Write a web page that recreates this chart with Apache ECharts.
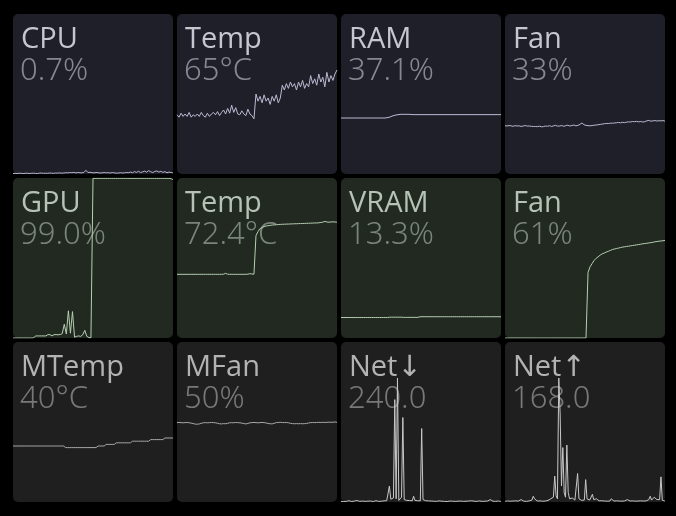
<!DOCTYPE html>
<html>
<head>
<meta charset="utf-8">
<script src="https://cdn.jsdelivr.net/npm/echarts@6/dist/echarts.min.js"></script>
<style>
html,body{margin:0;padding:0;background:#000;}
#c{width:676px;height:516px;}
</style>
</head>
<body>
<div id="c"></div>
<script>
// ---- tile labels ----
const titles = ['CPU','Temp','RAM','Fan','GPU','Temp','VRAM','Fan','MTemp','MFan','Net\u2193','Net\u2191'];
const readings = ['0.7%','65°C','37.1%','33%','99.0%','72.4°C','13.3%','61%','40°C','50%','240.0','168.0'];

// ---- series values (percent of tile scale) ----
const cpu = [0.3,0.4,0.3,0.5,0.4,0.3,0.4,0.5,0.3,0.4,0.5,0.4,0.3,0.5,0.6,0.4,0.5,0.4,0.6,0.5,0.4,0.6,0.5,0.7,0.5,0.6,
  0.8,0.7,0.9,0.8,1.0,0.7,0.9,0.8,0.7,1.0,
  2.3,0.9,1.1,0.8,0.7,0.9,0.8,0.6,0.7,0.9,
  0.7,0.8,0.6,0.9,0.7,0.5,0.6,0.8,0.6,0.7,0.9,0.8,
  1.2,0.8,1.5,1.0,1.7,0.9,1.3,1.8,1.1,2.1,1.4,0.9,1.6,1.9,1.2,1.7,1.0,1.5,0.8,1.2,0.9,0.7];
const cpuTemp = [37,35.5,38,36,37.5,36,38.5,35.5,37,36,
  37.5,36,38.5,36.5,35.5,38,36,37.5,38.5,37,
  39,36.5,38.5,40,37.5,41,38,43,38.5,41.5,
  37.5,37,39.5,37.5,36.5,40.5,37.5,36.5,34.5,
  50,45.5,48.5,44.5,49.5,45.5,47.5,43.5,48.5,45.5,49.5,44.5,47.5,
  55.5,52.5,56.5,53.5,57.5,54.5,56.5,52.5,57.5,54.5,58.5,53.5,56.5,54.5,
  61.5,56.5,59.5,55.5,62.5,57.5,60.5,54.5,63.5,57.5,61.5,58.5,62.5,65];
const ram = [35,35,35,35,35,35,35,35,35,35,35,35,35,35,35,35,35,35,35,35,35,35,35,35,
  35.4,35.9,36.4,36.8,37.0,
  37.3,37.3,37.3,37.3,37.3,37.3,
  37.1,37.1,37.1,37.1,37.1,37.1,37.1,37.1,37.1,37.1,37.1,37.1,37.1,37.1,37.1,37.1,37.1,37.1,37.1,37.1,37.1,37.1,37.1,
  37.1,37.1,37.1,37.1,37.1,37.1,37.1,37.1,37.1,37.1,37.1,37.1,37.1,37.1,37.1,37.1,37.1,37.1,37.1,37.1,37.1,37.1,37.1];
const fan = [30.2,30.0,30.3,30.1,29.8,30.2,30.0,30.1,29.7,30.0,30.3,29.9,30.0,29.8,29.7,
  29.7,29.6,29.9,29.5,29.6,30.0,29.8,30.2,29.7,30.1,30.4,29.9,30.0,30.3,29.8,
  30.2,30.5,30.0,30.3,30.6,30.1,30.4,31.0,31.9,30.8,30.4,30.2,30.1,30.3,30.5,
  30.6,30.8,31.0,31.2,31.4,31.6,31.5,31.8,31.7,31.9,32.0,32.2,32.0,32.3,32.1,
  32.4,32.6,32.5,32.8,32.7,32.9,32.6,32.8,32.5,32.7,33.2,33.5,33.0,33.2,33.4,33.1,33.3,33.2,33.4,33.0];
const gpu = [0,0,0,0,0,0,0,0,0,0,0,
  1.3,1.3,1.3,1.3,1.3,1.3,
  2.1,2.1,1.3,
  2.1,2.1,2.0,2.2,2.7,
  8.6,2.5,17,3,16.5,0.5,1,1.3,1.0,2,4.8,1,0.3,0.2,
  99.8,99.8,99.8,99.8,99.8,99.8,99.8,99.8,99.8,99.8,99.8,99.8,99.8,99.8,99.8,99.8,99.8,99.8,99.8,99.8,
  99.8,99.8,99.8,99.8,99.8,99.8,99.8,99.8,99.8,99.8,99.8,99.8,99.8,99.8,99.8,99.8,99.8,99.8,99.6,99.0];
const gpuTemp = [39.8,39.8,39.8,39.8,39.8,39.8,39.8,39.8,39.8,39.8,39.8,39.8,39.8,39.8,39.8,39.8,39.8,39.8,39.8,39.8,
  39.8,39.8,39.8,39.9,40.4,39.9,39.8,39.8,39.8,39.8,39.8,39.8,39.8,39.8,39.8,39.9,40.2,40.0,39.9,
  64.0,66.5,68.4,69.0,69.6,70.0,70.2,
  70.4,70.6,70.7,70.8,70.9,71.0,71.1,
  71.1,71.2,71.2,71.3,71.3,71.4,71.4,71.5,
  71.5,71.6,71.6,71.7,71.7,71.8,71.8,71.9,71.9,
  72.0,72.2,72.4,72.9,72.5,72.4,72.5,72.6,72.5,72.4];
const vram = [12.8,12.8,12.8,12.8,12.8,12.8,12.8,12.8,12.8,12.8,12.8,12.8,12.8,12.8,12.8,12.8,12.8,12.8,12.8,12.8,12.8,12.8,12.8,12.8,
  13.0,13.0,13.0,13.0,13.0,13.0,13.0,
  12.9,12.9,12.9,12.9,12.9,12.9,12.9,12.9,
  13.3,13.3,13.3,13.3,13.3,13.3,13.3,13.3,13.3,13.3,13.3,13.3,13.3,13.3,13.3,13.3,13.3,13.3,13.3,13.3,
  13.3,13.3,13.3,13.3,13.3,13.3,13.3,13.3,13.3,13.3,13.3,13.3,13.3,13.3,13.3,13.3,13.3,13.3,13.3,13.3,13.2];
const gpuFan = [0,0,0,0,0,0,0,0,0,0,0,0,0,0,0,0,0,0,0,0,0,0,0,0,0,0,0,0,0,0,0,0,0,0,0,0,0,0,0,0,0,
  41,44.5,46.5,48.5,49.8,50.8,51.8,52.6,53.1,53.7,54.2,54.7,55.3,55.6,55.9,56.2,56.5,56.8,57.0,
  57.2,57.4,57.6,57.8,58.0,58.2,58.4,58.6,58.9,59.0,59.2,59.4,59.6,59.8,60.1,60.3,60.5,60.6,60.8,61.0];
const mTemp = [35,35,35,35,35,35,35,35,35,35,35,35,35,35,35,35,35,35,35,35,35,35,35,35,35,35,
  34,34,34,34,34,34,34,34,34,34,34,34,34,34,34,34,
  35,35,35,35,
  36,36,36,36,36,
  37,37,37,37,37,37,37,37,
  38,38,38,38,38,38,38,38,38,
  39,39,39,39,39,39,39,
  40,40,40,40,40];
const mFan = [49.6,49.7,49.6,49.5,49.6,49.7,49.5,49.3,49.0,48.7,
  48.6,48.8,49.2,49.5,49.6,49.5,49.6,49.7,49.6,49.5,
  49.2,48.9,48.8,49.0,48.9,49.2,49.5,49.6,49.5,49.7,
  49.6,49.5,49.3,49.0,48.8,49.1,49.5,49.6,49.7,49.6,
  49.5,49.6,49.7,49.6,49.4,49.1,48.9,48.8,49.2,49.6,
  49.7,49.8,49.7,49.6,49.7,49.5,49.2,49.0,48.9,49.0,
  48.9,49.0,48.9,49.0,49.1,49.4,49.6,49.7,49.6,49.7,
  49.8,49.7,49.8,49.7,49.8,49.9,49.8,49.9,50.0,49.8];
const netDown = [0.4,0.5,0.3,0.6,0.4,0.5,0.8,0.4,0.3,0.5,
  0.6,0.4,0.9,0.5,0.4,0.3,0.6,0.5,0.4,0.7,
  0.5,0.4,0.6,0.5,0.3,0.4,0.8,0.5,0.4,0.6,
  0.5,1.0,0.7,1.2,0.8,1.5,10.0,1.8,0.9,2.5,
  64.0,2.0,77.5,1.0,1.5,3.0,52.8,1.5,0.8,1.0,
  0.7,0.9,1.2,0.8,3.6,1.0,0.6,0.8,0.5,0.7,
  45.9,1.5,0.6,0.8,2.0,0.7,0.5,0.6,0.4,0.5,
  0.6,0.4,0.5,0.7,0.4,0.5,0.6,0.4,0.5,0.3,
  0.5,0.6,0.4,0.5,0.7,0.4,0.6,0.5,0.4,0.6,
  0.5,0.4,0.7,0.5,0.4,0.6,0.5,0.8,0.4,0.5,
  0.6,0.4,0.5,0.7,0.5,0.4,0.6,0.5,0.9,0.6,
  0.5,1.5,0.7,0.5,0.6,0.4,0.9,0.6,0.5,0.4];
const netUp = [0.5,0.4,0.6,0.8,0.5,0.4,0.6,0.5,0.7,0.4,
  0.6,0.9,1.5,0.7,0.5,0.6,0.4,0.5,0.7,0.6,
  1.2,3.6,2.0,0.8,0.6,0.5,0.7,0.6,0.5,0.8,
  0.6,0.7,1.0,1.5,2.0,2.5,3.0,16.2,4.0,2.0,
  77.5,55.0,10.0,34.0,6.0,3.0,35.6,6.0,2.0,1.5,
  2.5,1.8,1.2,2.0,17.8,2.0,1.5,1.0,1.5,1.2,
  14.0,2.0,1.0,1.2,1.5,4.8,1.5,0.8,2.0,1.0,
  0.7,0.6,0.8,0.5,0.6,0.7,0.5,0.8,0.6,2.0,
  0.8,0.6,0.5,0.7,0.5,0.6,0.8,0.5,0.6,0.7,
  0.5,1.5,0.7,0.6,0.5,0.7,0.6,0.5,0.8,0.6,
  0.5,0.7,1.5,0.6,0.8,0.7,1.0,1.5,3.6,1.2,
  2.0,3.0,2.5,1.5,2.0,1.5,15.7,1.0,0.8,0.6];

const seriesData = [cpu,cpuTemp,ram,fan,gpu,gpuTemp,vram,gpuFan,mTemp,mFan,netDown,netUp];

// ---- styling ----
const rowStyle = [
  {bg:'#1f1f29', title:'#c6c6cf', value:'#878792', line:'#babad2'},
  {bg:'#212920', title:'#b6c2b5', value:'#7a857a', line:'#b6d0b2'},
  {bg:'#1f1f1f', title:'#b3b3b3', value:'#787878', line:'#a8a8a8'}
];
const TX0 = 13, TY0 = 14, PITCH = 164, TW = 160, TH = 160;

const grids = [], xAxes = [], yAxes = [], series = [], gfx = [];
seriesData.forEach((d, k) => {
  const r = Math.floor(k / 4), c = k % 4;
  const x = TX0 + c * PITCH, y = TY0 + r * PITCH;
  const st = rowStyle[r];
  grids.push({left: x, top: y, width: TW, height: TH, containLabel: false});
  xAxes.push({type: 'category', gridIndex: k, boundaryGap: false, show: false,
    data: d.map((_, i) => i)});
  yAxes.push({type: 'value', gridIndex: k, min: 0, max: 100, show: false});
  const isNet = k >= 10;
  series.push({type: 'line', xAxisIndex: k, yAxisIndex: k, data: d, symbol: 'none',
    silent: true, animation: false, z: 5,
    lineStyle: {width: 1, color: isNet ? '#c8c8c8' : st.line}});
  gfx.push({type: 'rect', z: 0, silent: true,
    shape: {x: x, y: y, width: TW, height: TH, r: 5}, style: {fill: st.bg}});
});
seriesData.forEach((d, k) => {
  const r = Math.floor(k / 4), c = k % 4;
  const x = TX0 + c * PITCH, y = TY0 + r * PITCH;
  const st = rowStyle[r];
  gfx.push({type: 'text', z: 1, silent: true, x: x + 8, y: y + 25.5,
    style: {text: titles[k], fill: st.title, fontSize: 29, fontFamily: '"Open Sans", "DejaVu Sans", sans-serif',
      fontWeight: 400, verticalAlign: 'middle', align: 'left'}});
  gfx.push({type: 'text', z: 1, silent: true, x: x + 7, y: y + 57,
    style: {text: readings[k], fill: st.value, fontSize: 31, fontFamily: '"Noto Sans", "Open Sans", sans-serif',
      fontWeight: 300, verticalAlign: 'middle', align: 'left'}});
});

const chart = echarts.init(document.getElementById('c'), null, {renderer: 'canvas'});
chart.setOption({
  backgroundColor: '#000000',
  animation: false,
  grid: grids, xAxis: xAxes, yAxis: yAxes, series: series,
  graphic: {elements: gfx}
});
</script>
</body>
</html>
